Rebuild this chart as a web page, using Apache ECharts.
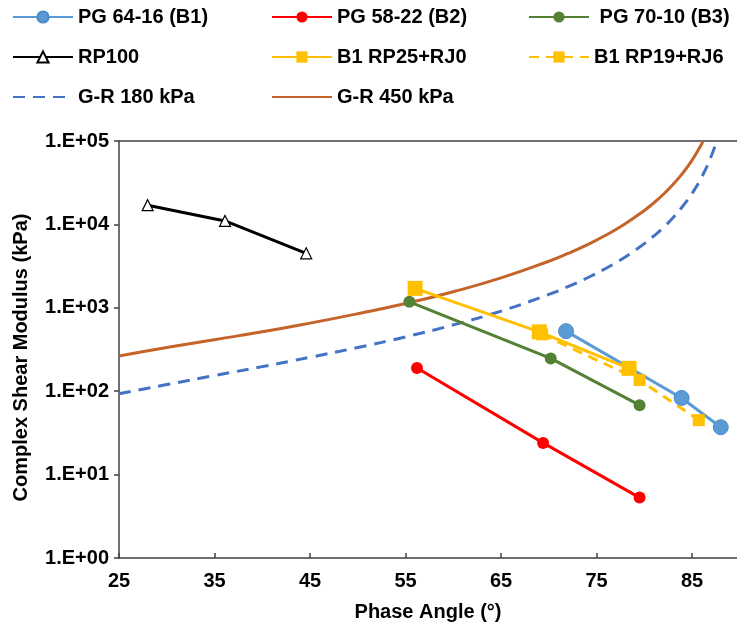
<!DOCTYPE html>
<html>
<head>
<meta charset="utf-8">
<script src="https://cdn.jsdelivr.net/npm/echarts@6/dist/echarts.min.js"></script>
<style>
  html, body { margin: 0; padding: 0; background: #fff; }
  #main { width: 737px; height: 627px; }
</style>
</head>
<body>
<div id="main"></div>
<script>
// phase angle (deg), |G*| (kPa) pairs
var pg6416 = [[71.8, 525], [83.9, 83], [88.0, 37]];
var pg5822 = [[56.2, 190], [69.4, 24], [79.5, 5.3]];
var pg7010 = [[55.4, 1180], [70.2, 247], [79.5, 68]];
var rp100 = [[28.0, 17000], [36.1, 11000], [44.6, 4500]];
var rp25rj0 = [[56.0, 1710], [69.0, 515], [78.4, 188]];
var rp19rj6 = [[69.3, 480], [79.5, 136], [85.7, 45]];

// Glover-Rowe limit curves
var gr180 = [[25, 93], [30, 120], [35, 154], [40, 197], [45, 255], [50, 334], [55, 448],
  [60, 624], [65, 913], [70, 1446], [72, 1793], [74, 2277], [76, 2984], [78, 4073],
  [80, 5879], [81, 7265], [82, 9203], [83, 12030], [84, 16380], [85, 23600],
  [86, 36900], [87, 65600], [87.57, 100000]];
var gr450 = [[25, 265], [30, 335], [35, 415], [40, 515], [45, 655], [50, 850], [55, 1125],
  [60, 1559], [65, 2283], [70, 3615], [72, 4482], [74, 5693], [76, 7461], [78, 10180],
  [80, 14700], [81, 18160], [82, 23010], [83, 30070], [84, 40950], [85, 59000],
  [86, 92250], [86.15, 100000]];

var yTickLabels = ["1.E+00", "1.E+01", "1.E+02", "1.E+03", "1.E+04", "1.E+05"];

var font = "'Liberation Sans', Arial, sans-serif";
var legendText = { fontFamily: font, fontWeight: "bold", fontSize: 20, color: "#000", lineHeight: 20 };

function legendCol(left, names) {
  return {
    orient: "vertical",
    left: left,
    top: 7,
    padding: 0,
    itemWidth: 60,
    itemHeight: 14,
    itemGap: 20,
    data: names.map(function (n) {
      // the G-R curves have no markers, so hide the legend symbol
      return n.indexOf("G-R") === 0 ? { name: n, itemStyle: { opacity: 0 } } : n;
    }),
    textStyle: legendText,
    formatter: function (name) {
      return name === "PG 70-10 (B3)" ? " " + name : name;
    }
  };
}

var myChart = echarts.init(document.getElementById("main"));
myChart.setOption({
  animation: false,
  legend: [
    legendCol(12, ["PG 64-16 (B1)", "RP100", "G-R 180 kPa"]),
    legendCol(271, ["PG 58-22 (B2)", "B1 RP25+RJ0", "G-R 450 kPa"]),
    legendCol(528, ["PG 70-10 (B3)", "B1 RP19+RJ6"])
  ],
  grid: { left: 119, right: 0, top: 141, bottom: 69 },
  xAxis: [{
    type: "value",
    min: 25,
    max: 89.7,
    interval: 10,
    name: "Phase Angle (°)",
    nameLocation: "middle",
    nameGap: 44,
    nameTextStyle: { fontFamily: font, fontWeight: "bold", fontSize: 20, color: "#000" },
    axisLine: { lineStyle: { color: "#404040", width: 1.5 } },
    axisTick: { inside: true, length: 5, lineStyle: { color: "#404040", width: 1.5 } },
    axisLabel: { showMaxLabel: false, margin: 13, fontFamily: font, fontWeight: "bold", fontSize: 20, color: "#000" },
    splitLine: { show: false }
  }, {
    type: "value",
    position: "top",
    min: 25,
    max: 89.7,
    axisLine: { show: true, lineStyle: { color: "#404040", width: 1.5 } },
    axisTick: { show: false },
    axisLabel: { show: false },
    splitLine: { show: false }
  }],
  yAxis: {
    type: "log",
    logBase: 10,
    min: 1,
    max: 100000,
    name: "Complex Shear Modulus (kPa)",
    nameLocation: "middle",
    nameGap: 88,
    nameTextStyle: { fontFamily: font, fontWeight: "bold", fontSize: 20, color: "#000", padding: [0, 16, 0, 0] },
    axisLine: { show: true, lineStyle: { color: "#404040", width: 1.5 } },
    axisTick: { show: true, length: 5, lineStyle: { color: "#404040", width: 1.5 } },
    axisLabel: {
      margin: 10,
      fontFamily: font, fontWeight: "bold", fontSize: 20, color: "#000",
      formatter: function (v) {
        return yTickLabels[Math.round(Math.log10(v))];
      }
    },
    splitLine: { show: false }
  },
  series: [
    {
      name: "G-R 180 kPa", type: "line", data: gr180, symbol: "none", smooth: true,
      lineStyle: { color: "#4472C4", width: 3, type: [12, 8] },
      itemStyle: { color: "#4472C4" }, z: 1
    },
    {
      name: "G-R 450 kPa", type: "line", data: gr450, symbol: "none", smooth: true,
      lineStyle: { color: "#C5642A", width: 3 },
      itemStyle: { color: "#C5642A" }, z: 1
    },
    {
      name: "PG 64-16 (B1)", type: "line", data: pg6416, symbol: "circle", symbolSize: 15,
      lineStyle: { color: "#5B9BD5", width: 3 },
      itemStyle: { color: "#5B9BD5", borderColor: "#4A8AC8", borderWidth: 1 }
    },
    {
      name: "PG 58-22 (B2)", type: "line", data: pg5822, symbol: "circle", symbolSize: 12,
      lineStyle: { color: "#FF0000", width: 3 },
      itemStyle: { color: "#FF0000" }
    },
    {
      name: "PG 70-10 (B3)", type: "line", data: pg7010, symbol: "circle", symbolSize: 12,
      lineStyle: { color: "#548235", width: 3 },
      itemStyle: { color: "#548235" }
    },
    {
      name: "RP100", type: "line", data: rp100, symbol: "triangle", symbolSize: 11,
      lineStyle: { color: "#000", width: 3 },
      itemStyle: { color: "#fff", borderColor: "#000", borderWidth: 1.2 }
    },
    {
      name: "B1 RP25+RJ0", type: "line", data: rp25rj0, symbol: "rect", symbolSize: 15,
      lineStyle: { color: "#FFC000", width: 3 },
      itemStyle: { color: "#FFC000" }
    },
    {
      name: "B1 RP19+RJ6", type: "line", data: rp19rj6, symbol: "rect", symbolSize: 12,
      lineStyle: { color: "#FFC000", width: 3, type: [10, 7] },
      itemStyle: { color: "#FFC000" }
    }
  ]
});
</script>
</body>
</html>
